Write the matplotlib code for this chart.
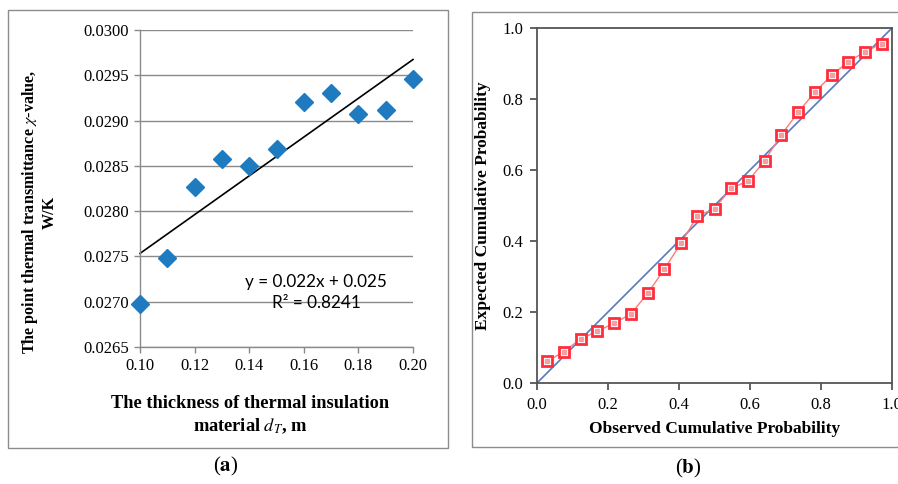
import numpy as np
import matplotlib
matplotlib.use("Agg")
import matplotlib.pyplot as plt
from matplotlib.patches import Rectangle

plt.rcParams['mathtext.fontset'] = 'stix'

# ---------------- data ----------------
thickness = [0.10, 0.11, 0.12, 0.13, 0.14, 0.15, 0.16, 0.17, 0.18, 0.19, 0.20]
chi_value = [0.02697, 0.02748, 0.02827, 0.02858, 0.02850, 0.02869,
             0.02920, 0.02930, 0.02907, 0.02912, 0.02946]
a_yticks = [0.0265, 0.0270, 0.0275, 0.0280, 0.0285, 0.0290, 0.0295, 0.0300]
a_xticks = [0.10, 0.12, 0.14, 0.16, 0.18, 0.20]

observed = [0.029, 0.075, 0.123, 0.170, 0.216, 0.264, 0.312, 0.359, 0.405,
            0.452, 0.500, 0.547, 0.595, 0.641, 0.688, 0.736, 0.783, 0.830,
            0.877, 0.924, 0.971]
expected = [0.061, 0.088, 0.124, 0.146, 0.168, 0.194, 0.253, 0.321, 0.393,
            0.471, 0.491, 0.549, 0.569, 0.626, 0.699, 0.763, 0.820, 0.867,
            0.905, 0.933, 0.956]
diag = [0.0, 1.0]
b_ticks = [0.0, 0.2, 0.4, 0.6, 0.8, 1.0]

W, H = 898, 484
fig = plt.figure(figsize=(W / 100, H / 100), dpi=100)

def fx(px):
    return px / W

def fy(py):
    return 1 - py / H

serif = 'Liberation Serif'

# panel frames
fig.patches.append(Rectangle((fx(8), fy(448)), fx(440), 438 / H, transform=fig.transFigure,
                             fill=False, edgecolor='#8c8c8c', linewidth=1.0))
fig.patches.append(Rectangle((fx(472), fy(447)), fx(440), 435 / H, transform=fig.transFigure,
                             fill=False, edgecolor='#8c8c8c', linewidth=1.0))

# ---------------- panel (a) ----------------
axa = fig.add_axes([fx(140), fy(347), fx(413 - 140), (347 - 30) / H])
axa.set_xlim(0.10, 0.20)
axa.set_ylim(0.0265, 0.0300)
axa.set_yticks(a_yticks)
axa.set_xticks(a_xticks)
axa.set_yticklabels([f"{v:.4f}" for v in a_yticks])
axa.set_xticklabels([f"{v:.2f}" for v in a_xticks])
axa.grid(axis='y', color='#8a8a8a', linewidth=1.0)
axa.set_axisbelow(True)
for s in ['top', 'right']:
    axa.spines[s].set_visible(False)
for s in ['left', 'bottom']:
    axa.spines[s].set_color('#8a8a8a')
    axa.spines[s].set_linewidth(1.0)
axa.tick_params(direction='out', length=4, color='#8a8a8a', width=1.0,
                labelsize=12, pad=4)
for lab in axa.get_xticklabels() + axa.get_yticklabels():
    lab.set_fontfamily(serif)

coef = np.polyfit(thickness, chi_value, 1)
xl = np.array([0.10, 0.20])
axa.plot(xl, np.polyval(coef, xl), color='black', linewidth=1.2, zorder=2, clip_on=False)
axa.plot(thickness, chi_value, linestyle='none', marker='D', markersize=9.5,
         color='#1f7bc0', zorder=3, clip_on=False)

axa.text(0.1645, 0.02722, "y = 0.022x + 0.025", fontsize=12.3, family='Lato',
         ha='center', va='center')
axa.text(0.1645, 0.02699, "R² = 0.8241", fontsize=12.3, family='Lato',
         ha='center', va='center')

fig.text(fx(30), fy(212), "The point thermal transmittance $\\chi$-value,",
         rotation=90, ha='center', va='center', fontsize=11.6,
         family=serif, fontweight='bold')
fig.text(fx(50), fy(212), "W/K", rotation=90, ha='center', va='center',
         fontsize=11.6, family=serif, fontweight='bold')
fig.text(fx(250), fy(403), "The thickness of thermal insulation",
         ha='center', va='center', fontsize=13.2, family=serif, fontweight='bold')
fig.text(fx(250), fy(426), "material $d_T$, m",
         ha='center', va='center', fontsize=13.2, family=serif, fontweight='bold')
fig.text(fx(226), fy(466), "($\\mathbf{a}$)", ha='center', va='center',
         fontsize=15, family=serif)

# ---------------- panel (b) ----------------
axb = fig.add_axes([fx(537), fy(383), fx(892 - 537), (383 - 28) / H])
axb.set_xlim(0, 1)
axb.set_ylim(0, 1)
axb.set_xticks(b_ticks)
axb.set_yticks(b_ticks)
axb.set_xticklabels([f"{v:.1f}" for v in b_ticks])
axb.set_yticklabels([f"{v:.1f}" for v in b_ticks])
for s in axb.spines.values():
    s.set_color('#555555')
    s.set_linewidth(1.3)
axb.tick_params(direction='out', length=5, color='#555555', width=1.3,
                labelsize=12, pad=5)
for lab in axb.get_xticklabels() + axb.get_yticklabels():
    lab.set_fontfamily(serif)

axb.plot(diag, diag, color='#5a78c0', linewidth=1.2, zorder=2)
axb.plot(observed, expected, color='#ff7a7a', linewidth=1.0, zorder=3)
axb.plot(observed, expected, linestyle='none', marker='s', markersize=7.5,
         mfc='white', mec='#ff2d3c', mew=2.0, zorder=4)
axb.plot(observed, expected, linestyle='none', marker='s', markersize=2.2,
         color='#f4a0a0', zorder=5)

axb.set_xlabel("Observed Cumulative Probability", family=serif,
               fontweight='bold', fontsize=12.5, labelpad=6)
axb.set_ylabel("Expected Cumulative Probability", family=serif,
               fontweight='bold', fontsize=12.5, labelpad=8)
fig.text(fx(688), fy(468), "($\\mathbf{b}$)", ha='center', va='center',
         fontsize=15, family=serif)

fig.savefig("out.png", dpi=100)
